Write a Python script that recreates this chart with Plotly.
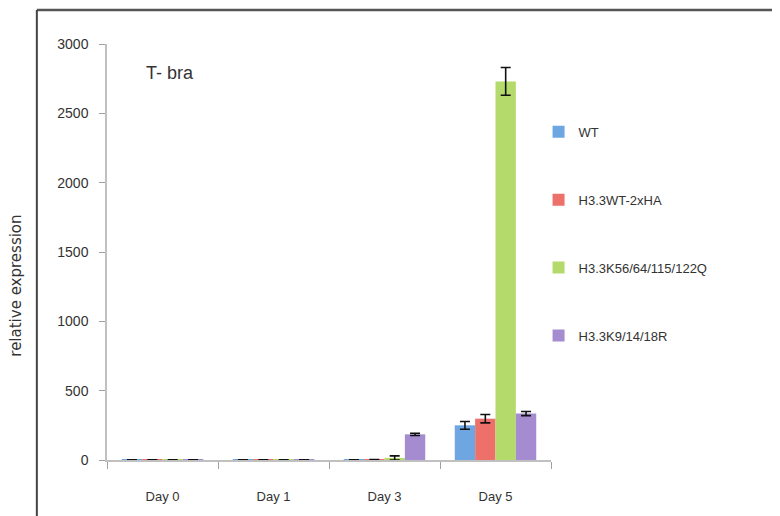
import plotly.graph_objects as go

categories = ["Day 0", "Day 1", "Day 3", "Day 5"]
series_names = ["WT", "H3.3WT-2xHA", "H3.3K56/64/115/122Q", "H3.3K9/14/18R"]
wt = [1, 1, 1, 250]
wt_err = [0.5, 0.5, 0.5, 28]
ha = [1, 1, 2, 298]
ha_err = [0.5, 0.5, 1, 30]
kq = [1, 1, 15, 2730]
kq_err = [0.5, 0.5, 15, 100]
kr = [1, 1, 185, 335]
kr_err = [0.5, 0.5, 8, 15]
y_ticks = [0, 500, 1000, 1500, 2000, 2500, 3000]

values = [wt, ha, kq, kr]
errors = [wt_err, ha_err, kq_err, kr_err]
colors = ["#6ea6e2", "#ee706b", "#b4da6c", "#a58bd0"]

FONT = "Liberation Sans Narrow, Liberation Sans, Arial, sans-serif"

fig = go.Figure()
for i, (name, v, e, c) in enumerate(zip(series_names, values, errors, colors)):
    fig.add_trace(go.Bar(
        x=categories, y=v, name=name, marker_color=c, marker_line_width=0,
        legendgroup=f"g{i}",
        error_y=dict(type="data", array=e, visible=True, color="#111111",
                     thickness=1.6, width=5),
    ))

fig.update_layout(
    width=772, height=508,
    margin=dict(l=99, r=229, t=36, b=48),
    plot_bgcolor="white", paper_bgcolor="white",
    barmode="group", bargap=0.266, bargroupgap=0,
    font=dict(family=FONT, color="#333333", size=13),
    showlegend=True,
    legend=dict(x=0.972, y=0.825, xanchor="left", yanchor="top",
                font=dict(size=13, color="#333333", family=FONT),
                tracegroupgap=48, traceorder="grouped",
                itemwidth=30, bgcolor="rgba(0,0,0,0)"),
    xaxis=dict(showline=True, linecolor="#c0c0c0", linewidth=1.5,
               ticks="outside", tickson="boundaries", ticklen=7,
               tickcolor="#a0a0a0", tickwidth=1.2,
               ticklabelstandoff=24, showgrid=False,
               tickfont=dict(size=13, color="#333333")),
    yaxis=dict(range=[0, 3000], tickvals=y_ticks, showline=True,
               linecolor="#c0c0c0", linewidth=1.5, ticks="outside",
               ticklen=6, tickcolor="#a0a0a0", tickwidth=1.2,
               showgrid=False, zeroline=False, ticklabelstandoff=8,
               tickfont=dict(size=14, color="#333333")),
    shapes=[
        dict(type="line", xref="paper", yref="paper", x0=-0.158, x1=1.6,
             y0=1.0817, y1=1.0817, line=dict(color="#555555", width=2.5)),
        dict(type="line", xref="paper", yref="paper", x0=-0.158, x1=-0.158,
             y0=1.0817, y1=-0.2, line=dict(color="#444444", width=2)),
    ],
    annotations=[
        dict(text="T- bra", xref="paper", yref="paper", x=0.083, y=0.93,
             xanchor="left", yanchor="middle", showarrow=False,
             font=dict(size=18, color="#333333", family=FONT)),
        dict(text="relative expression", xref="paper", yref="paper",
             x=-0.204, y=0.42, xanchor="center", yanchor="middle",
             textangle=-90, showarrow=False,
             font=dict(size=15, color="#333333", family="DejaVu Sans, sans-serif")),
    ],
)

fig.write_html("out.html")
